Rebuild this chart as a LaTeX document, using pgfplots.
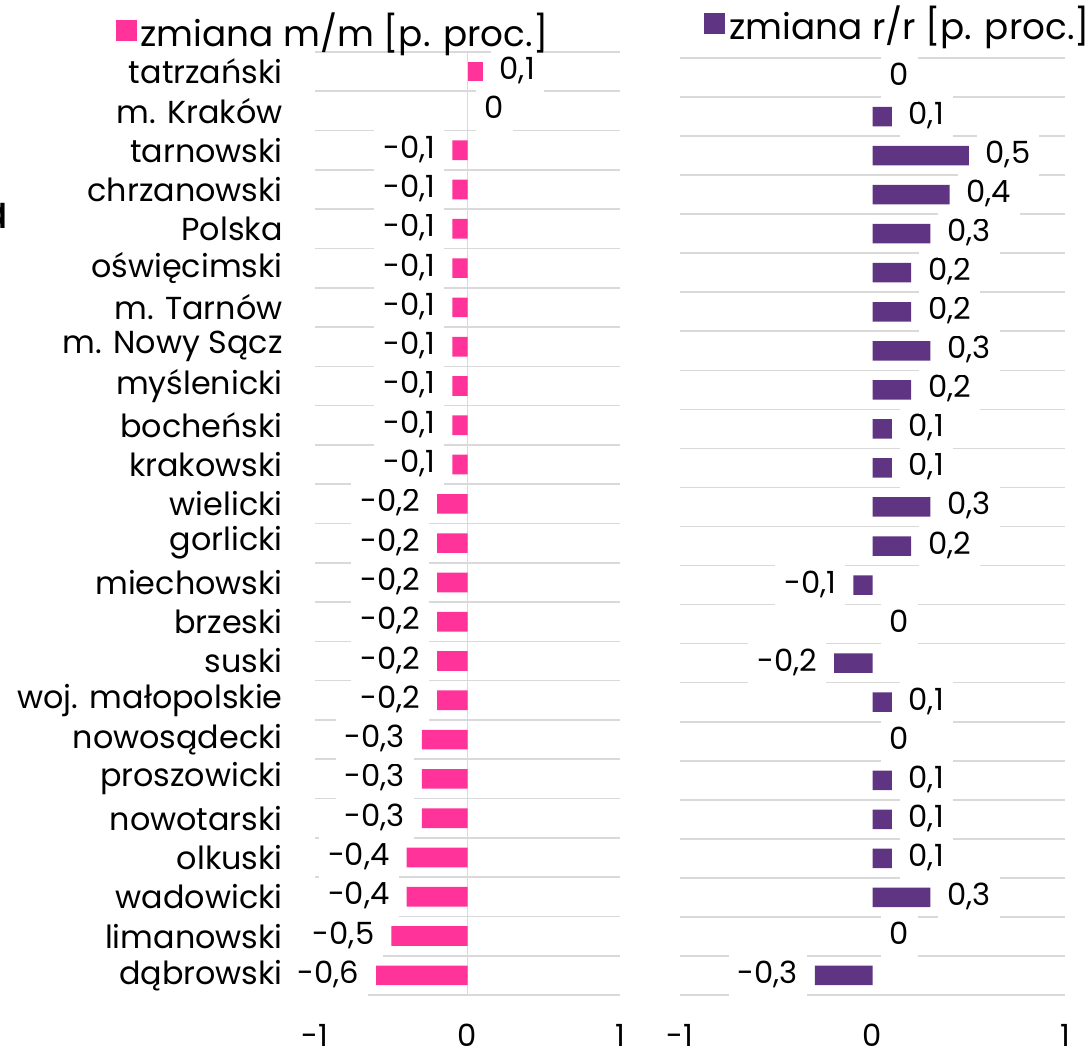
\documentclass[border=0pt]{standalone}
\usepackage{fontspec}
\setmainfont{Poppins}
\usepackage{pgfplots}
\pgfplotsset{compat=1.18}
\definecolor{pinkbar}{HTML}{FF3399}
\definecolor{purplebar}{HTML}{5F3482}
\definecolor{gridc}{HTML}{D9D9D9}
\newcommand{\catfont}{\fontsize{15.9}{18}\selectfont}
\newcommand{\lblfont}{\fontsize{15.3}{17}\selectfont}
\newcommand{\legfont}{\fontsize{17.9}{20}\selectfont}
\begin{document}
\begin{tikzpicture}
\useasboundingbox (0pt,0pt) rectangle (546pt,524.5pt);
\pgfplotsset{
 panel/.style={
  scale only axis,
  ymin=-0.5, ymax=23.5,
  xmin=-1, xmax=1,
  xtick={-1,0,1},
  xticklabels={-1,0,1},
  xticklabel style={font=\lblfont, anchor=center, yshift=-20pt},
  axis line style={draw=none},
  major tick length=0pt,
  minor tick length=0pt,
  ytick={0,...,23},
  minor ytick={-0.5,0.5,...,23.5},
  yminorgrids=true,
  minor grid style={gridc, line width=0.8pt},
  xbar, bar width=0.5, bar shift=0pt,
  nodes near coords, point meta=explicit symbolic,
  every node near coord/.append style={font=\lblfont, fill=white, text=black,
     inner xsep=4.5pt, inner ysep=5pt, outer xsep=4pt, outer ysep=0pt,
     text height=11pt, text depth=3pt},
  legend style={draw=none, fill=none, font=\legfont, anchor=center, inner sep=0pt,
     /tikz/every even column/.append style={column sep=3pt}},
  legend image code/.code={\fill[##1] (0pt,-5.25pt) rectangle (10.5pt,5.25pt);},
 },
 pos/.style={every node near coord/.append style={anchor=west}},
 neg/.style={every node near coord/.append style={anchor=east}},
}
\node[anchor=base east, inner sep=0pt, font=\fontsize{23}{26}\selectfont] at (4.5pt,410pt) {a};
\begin{axis}[panel,
  at={(157.5pt,27pt)}, anchor=south west, width=152.5pt, height=471.5pt,
  yticklabels={dąbrowski,limanowski,wadowicki,olkuski,nowotarski,proszowicki,nowosądecki,woj. małopolskie,suski,brzeski,miechowski,gorlicki,wielicki,krakowski,bocheński,myślenicki,m. Nowy Sącz,m. Tarnów,oświęcimski,Polska,chrzanowski,tarnowski,m. Kraków,tatrzański},
  yticklabel style={font=\catfont, anchor=east, inner xsep=0pt, xshift=-16pt},
  extra x ticks={0}, extra x tick labels={},
  extra x tick style={xmajorgrids=true, major grid style={gridc, line width=0.8pt}},
  legend style={at={(0.0623,1.0223)}},
]
\addplot[fill=pinkbar, draw=none, pos] coordinates {
(0.1,23) [0,1]
};
\addlegendentry{zmiana m/m [p. proc.]}
\addplot[fill=none, draw=none, pos, forget plot] coordinates {
(0,22) [0]
};
\addplot[fill=pinkbar, draw=none, neg, forget plot] coordinates {
(-0.6,0) [-0,6]
(-0.5,1) [-0,5]
(-0.4,2) [-0,4]
(-0.4,3) [-0,4]
(-0.3,4) [-0,3]
(-0.3,5) [-0,3]
(-0.3,6) [-0,3]
(-0.2,7) [-0,2]
(-0.2,8) [-0,2]
(-0.2,9) [-0,2]
(-0.2,10) [-0,2]
(-0.2,11) [-0,2]
(-0.2,12) [-0,2]
(-0.1,13) [-0,1]
(-0.1,14) [-0,1]
(-0.1,15) [-0,1]
(-0.1,16) [-0,1]
(-0.1,17) [-0,1]
(-0.1,18) [-0,1]
(-0.1,19) [-0,1]
(-0.1,20) [-0,1]
(-0.1,21) [-0,1]
};
\end{axis}
\begin{axis}[panel,
  at={(340pt,27pt)}, anchor=south west, width=192.5pt, height=468.5pt,
  yticklabels={},
  legend style={at={(0.569,1.0363)}},
]
\addplot[fill=purplebar, draw=none, pos] coordinates {
(0.3,2) [0,3]
(0.1,3) [0,1]
(0.1,4) [0,1]
(0.1,5) [0,1]
(0.1,7) [0,1]
(0.2,11) [0,2]
(0.3,12) [0,3]
(0.1,13) [0,1]
(0.1,14) [0,1]
(0.2,15) [0,2]
(0.3,16) [0,3]
(0.2,17) [0,2]
(0.2,18) [0,2]
(0.3,19) [0,3]
(0.4,20) [0,4]
(0.5,21) [0,5]
(0.1,22) [0,1]
};
\addlegendentry{zmiana r/r [p. proc.]}
\addplot[fill=none, draw=none, pos, forget plot] coordinates {
(0,1) [0]
(0,6) [0]
(0,9) [0]
(0,23) [0]
};
\addplot[fill=purplebar, draw=none, neg, forget plot] coordinates {
(-0.3,0) [-0,3]
(-0.2,8) [-0,2]
(-0.1,10) [-0,1]
};
\end{axis}
\end{tikzpicture}
\end{document}
